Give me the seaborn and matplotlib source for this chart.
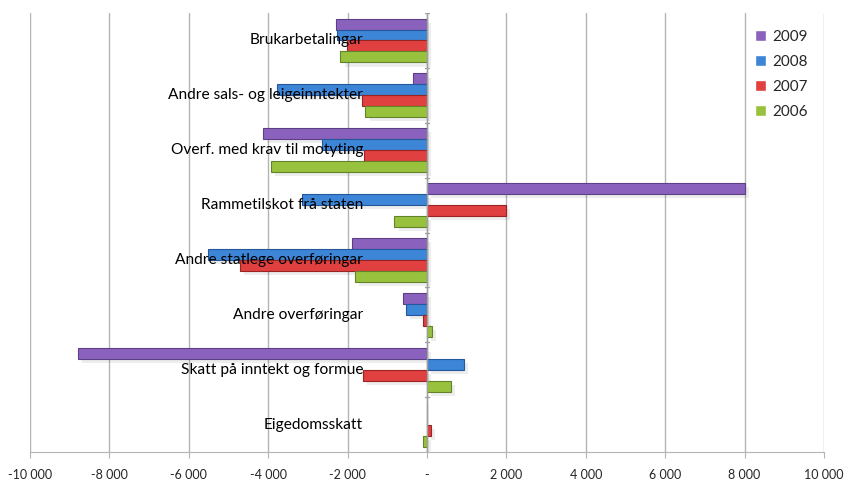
import pandas as pd
import seaborn as sns
import matplotlib.pyplot as plt
import matplotlib.patheffects as pe
from matplotlib.ticker import FuncFormatter, MultipleLocator

# Data (NOK 1000)
categories = ['Brukarbetalingar', 'Andre sals- og leigeinntekter',
              'Overf. med krav til motyting', 'Rammetilskot frå staten',
              'Andre statlege overføringar', 'Andre overføringar',
              'Skatt på inntekt og formue', 'Eigedomsskatt']
years = ['2009', '2008', '2007', '2006']
v2009 = [-2300, -350, -4130, 8000, -1900, -600, -8790, 0]
v2008 = [-2260, -3770, -2640, -3160, -5520, -530, 930, 0]
v2007 = [-2010, -1630, -1590, 1980, -4720, -100, -1620, 100]
v2006 = [-2180, -1550, -3940, -820, -1820, 120, 610, -90]

colors = ['#8a62bd', '#3d85d6', '#e0403f', '#98c23e']
edges = ['#5c3f85', '#25589a', '#9a2424', '#63832a']

rows = []
for yr, vals in zip(years, [v2009, v2008, v2007, v2006]):
    for cat, v in zip(categories, vals):
        rows.append({'kategori': cat, 'år': yr, 'verdi': v})
df = pd.DataFrame(rows)

sns.set_style('white')
plt.rcParams['font.family'] = ['Lato', 'DejaVu Sans']

fig = plt.figure(figsize=(8.46, 4.83), dpi=100)
ax = fig.add_axes([0.0355, 0.064, 0.9385, 0.909])

sns.barplot(data=df, y='kategori', x='verdi', hue='år', hue_order=years,
            order=categories, palette=colors, orient='h', width=0.8,
            saturation=1, errorbar=None, ax=ax, zorder=3)

# darker outline + soft shadow like the Excel bevel bars
for cont, ec in zip(ax.containers, edges):
    for bar in cont:
        bar.set_edgecolor(ec)
        bar.set_linewidth(0.8)
        if bar.get_width() != 0:
            bar.set_path_effects([pe.SimplePatchShadow(offset=(3, -3), shadow_rgbFace='#000000', alpha=0.07),
                                  pe.Normal()])

ax.set_xlim(-10000, 10000)
ax.set_ylim(len(categories) - 0.5, -0.5)
ax.xaxis.set_major_locator(MultipleLocator(2000))
ax.xaxis.set_major_formatter(FuncFormatter(
    lambda v, p: '-' if v == 0 else f'{v:,.0f}'.replace(',', ' ')))
ax.grid(axis='x', color='#b4b4b4', linewidth=1)
ax.set_axisbelow(True)

for s in ['top', 'right', 'left']:
    ax.spines[s].set_visible(False)
ax.spines['bottom'].set_color('#b4b4b4')
ax.tick_params(axis='x', direction='out', length=4, color='#b4b4b4',
               labelsize=9, pad=8, bottom=True)
ax.set_yticks([])
ax.set_xlabel('')
ax.set_ylabel('')

# zero axis with small category separator ticks
ax.axvline(0, color='#a0a0a0', linewidth=1, zorder=4)
for b in range(len(categories) + 1):
    ax.plot([-60, 60], [b - 0.5, b - 0.5], color='#a0a0a0', linewidth=1, zorder=4)

# category labels sit just left of the zero line, on top of the bars
for i, cat in enumerate(categories):
    ax.annotate(cat, (0, i), xytext=(-46, 0), textcoords='offset points',
                ha='right', va='center', fontsize=11.2, color='black', zorder=6)

ax.legend(loc='upper left', bbox_to_anchor=(0.906, 0.975), frameon=False,
          handlelength=0.7, handleheight=0.7, handletextpad=0.4,
          labelspacing=0.72, fontsize=11, borderaxespad=0)

fig.savefig('out.png', dpi=100)
